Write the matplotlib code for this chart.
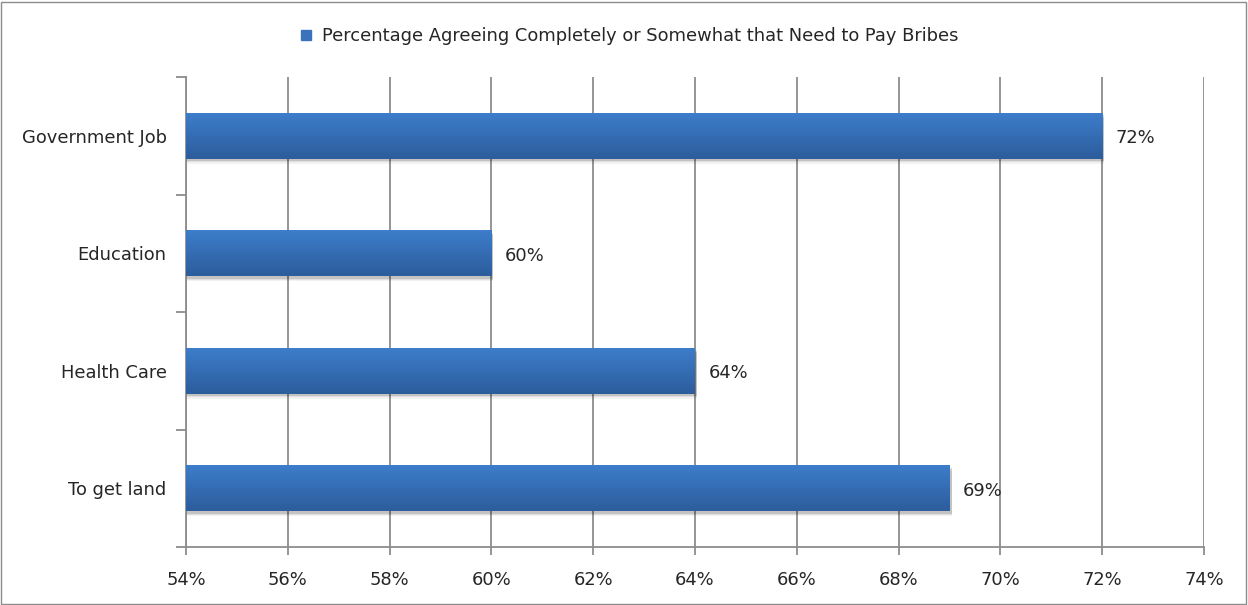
import matplotlib
matplotlib.use("Agg")
import matplotlib.pyplot as plt
import numpy as np
from matplotlib.patches import Rectangle
from matplotlib.colors import LinearSegmentedColormap
from matplotlib.lines import Line2D

categories = ["Government Job", "Education", "Health Care", "To get land"]
values = [72, 60, 64, 69]
series_name = "Percentage Agreeing Completely or Somewhat that Need to Pay Bribes"
x_ticks = [54, 56, 58, 60, 62, 64, 66, 68, 70, 72, 74]

plt.rcParams["font.family"] = ["DejaVu Sans"]
text_color = "#262626"
grid_color = "#8c8c8c"
fs = 12.9

fig = plt.figure(figsize=(12.48, 6.05), dpi=100)
ax = fig.add_axes([186 / 1248, 1 - 547 / 605, (1204 - 186) / 1248, (547 - 77) / 605])

x0, x1 = x_ticks[0], x_ticks[-1]
ax.set_xlim(x0, x1)
n = len(categories)
ax.set_ylim(n, 0)

bar_h = 0.39
grad = LinearSegmentedColormap.from_list("bar", ["#3d7dcb", "#2c5d9c"])
grad_img = np.linspace(0, 1, 64).reshape(-1, 1)

for i, (cat, v) in enumerate(zip(categories, values)):
    yc = i + 0.5
    top = yc - bar_h / 2
    # soft shadow under the bar
    for k, a in enumerate([0.12, 0.08, 0.05]):
        sh = Rectangle((x0, top + 0.02 + k * 0.012), v - x0 + 0.04, bar_h,
                       facecolor="black", alpha=a, edgecolor="none", zorder=2)
        ax.add_patch(sh)
    rect = Rectangle((x0, top), v - x0, bar_h, facecolor="none", edgecolor="none", zorder=3)
    ax.add_patch(rect)
    im = ax.imshow(grad_img, cmap=grad, aspect="auto",
                   extent=(x0, v, top + bar_h, top), zorder=3, interpolation="bilinear")
    im.set_clip_path(rect)
    ax.text(v + 0.27, yc + 0.02, f"{v}%", va="center", ha="left", fontsize=fs,
            color=text_color, zorder=4)

ax.set_xticks(x_ticks)
ax.set_xticklabels([f"{t}%" for t in x_ticks], fontsize=fs, color=text_color)
ax.xaxis.grid(True, color=grid_color, linewidth=1.3)
ax.set_axisbelow(True)

ax.set_yticks(np.arange(0, n + 1))
ax.set_yticklabels([])
ax.set_yticks(np.arange(n) + 0.5, minor=True)
ax.set_yticklabels(categories, minor=True, fontsize=fs, color=text_color)
ax.tick_params(axis="y", which="major", length=7, color=grid_color, width=1.3)
ax.tick_params(axis="y", which="minor", length=0, pad=14)
ax.tick_params(axis="x", which="major", length=6, color=grid_color, width=1.3, pad=11)

for s in ["top", "right"]:
    ax.spines[s].set_visible(False)
for s in ["left", "bottom"]:
    ax.spines[s].set_color(grid_color)
    ax.spines[s].set_linewidth(1.3)
ax.set_xlim(x0, x1)
ax.set_ylim(n, 0)

handle = Line2D([], [], marker="s", linestyle="none", markersize=6.5,
                markerfacecolor="#3a73bb", markeredgecolor="#3a73bb")
fig.legend([handle], [series_name], loc="center", bbox_to_anchor=(628 / 1248, 1 - 36 / 605),
           frameon=False, fontsize=fs, handletextpad=0.4, handlelength=1.0, labelcolor=text_color)

border = Rectangle((1 / 1248, 1 / 605), 1245 / 1248, 602 / 605, transform=fig.transFigure,
                   fill=False, edgecolor="#8c8c8c", linewidth=1.0)
fig.patches.append(border)

fig.savefig("out.png", dpi=100, facecolor="white")
